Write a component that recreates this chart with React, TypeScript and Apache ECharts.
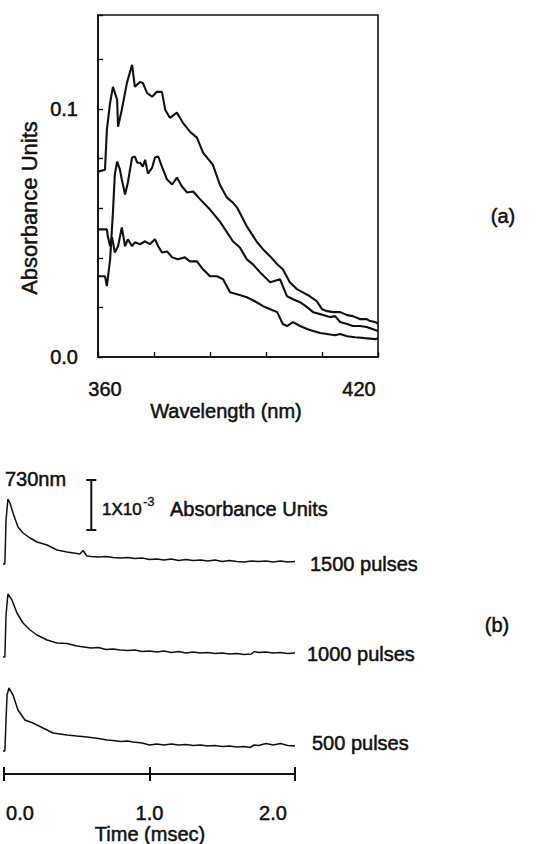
import { useEffect, useRef } from 'react';
import * as echarts from 'echarts';

const FONT = '"Liberation Sans", Arial, Helvetica, sans-serif';
const INK = '#111111';

// ---------- (a) transient absorption spectra ----------
const WL_TOP = [360.0, 361.5, 361.9, 362.6, 363.2, 364.1, 364.3, 365.1, 366.2, 367.3, 367.9, 369.0, 369.6, 370.5, 371.6, 372.6, 373.7, 374.4, 375.4, 376.9, 378.2, 379.7, 381.2, 382.5, 384.6, 386.1, 387.6, 388.9, 389.8, 391.9, 394.1, 395.4, 396.9, 398.4, 399.6, 401.1, 402.6, 403.9, 405.4, 406.9, 408.0, 409.1, 410.4, 411.9, 413.4, 414.6, 416.1, 417.6, 418.3, 419.4, 420.0];
const ABS_TOP = [0.0748, 0.0756, 0.0917, 0.1026, 0.1090, 0.1038, 0.0929, 0.0998, 0.1106, 0.1179, 0.1090, 0.1110, 0.1106, 0.1066, 0.1050, 0.1070, 0.1070, 0.0998, 0.0965, 0.0986, 0.0945, 0.0909, 0.0885, 0.0825, 0.0776, 0.0696, 0.0644, 0.0623, 0.0603, 0.0527, 0.0463, 0.0434, 0.0406, 0.0374, 0.0354, 0.0302, 0.0274, 0.0261, 0.0245, 0.0225, 0.0193, 0.0185, 0.0181, 0.0181, 0.0169, 0.0165, 0.0153, 0.0153, 0.0145, 0.0141, 0.0135];

const WL_MID = [360.0, 361.5, 361.9, 362.6, 363.2, 363.6, 364.1, 364.7, 365.1, 365.8, 366.4, 367.3, 367.9, 368.4, 369.0, 369.6, 370.1, 370.7, 371.6, 372.2, 372.9, 373.7, 374.8, 375.9, 376.9, 378.0, 379.1, 380.4, 381.9, 384.0, 386.1, 388.9, 390.4, 391.9, 393.2, 394.7, 396.9, 399.0, 400.5, 401.8, 403.3, 404.8, 406.1, 407.6, 409.7, 410.8, 411.9, 413.4, 414.6, 416.1, 417.6, 419.4, 420.0];
const ABS_MID = [0.0326, 0.0326, 0.0286, 0.0394, 0.0583, 0.0736, 0.0788, 0.0756, 0.0716, 0.0656, 0.0704, 0.0805, 0.0809, 0.0784, 0.0784, 0.0768, 0.0796, 0.0740, 0.0764, 0.0805, 0.0809, 0.0768, 0.0716, 0.0696, 0.0724, 0.0688, 0.0664, 0.0668, 0.0636, 0.0595, 0.0547, 0.0467, 0.0442, 0.0394, 0.0374, 0.0342, 0.0302, 0.0314, 0.0245, 0.0233, 0.0221, 0.0201, 0.0181, 0.0173, 0.0161, 0.0165, 0.0141, 0.0133, 0.0125, 0.0125, 0.0121, 0.0109, 0.0105];

const WL_LOW = [360.0, 361.9, 362.1, 362.6, 363.0, 363.6, 364.3, 365.1, 365.8, 366.4, 367.3, 367.9, 369.0, 370.1, 371.1, 372.2, 372.9, 373.7, 374.8, 375.9, 377.1, 378.6, 379.7, 381.2, 382.5, 384.0, 385.5, 386.8, 388.3, 389.8, 391.9, 393.6, 395.4, 396.9, 398.4, 399.6, 400.5, 401.8, 403.3, 404.8, 406.1, 407.6, 409.1, 410.8, 411.9, 413.4, 415.1, 417.2, 419.4, 420.0];
const ABS_LOW = [0.0515, 0.0515, 0.0487, 0.0447, 0.0483, 0.0422, 0.0447, 0.0523, 0.0447, 0.0475, 0.0447, 0.0463, 0.0455, 0.0467, 0.0455, 0.0475, 0.0447, 0.0422, 0.0426, 0.0402, 0.0394, 0.0402, 0.0386, 0.0386, 0.0354, 0.0326, 0.0326, 0.0314, 0.0261, 0.0253, 0.0241, 0.0225, 0.0205, 0.0193, 0.0181, 0.0133, 0.0125, 0.0141, 0.0125, 0.0113, 0.0105, 0.0097, 0.0093, 0.0088, 0.0093, 0.0084, 0.0080, 0.0076, 0.0072, 0.0076];

const WL_LABELED = [360, 420];
const ABS_LABELED = [0, 0.1];
const ABS_LABEL_TEXT = ['0.0', '0.1'];

// ---------- (b) 730 nm kinetic traces (units of 1e-3 absorbance) ----------
const T_1500 = [-0.027, 0.006, 0.014, 0.027, 0.041, 0.062, 0.096, 0.131, 0.179, 0.227, 0.296, 0.364, 0.433, 0.50, 0.522, 0.543, 0.570, 0.60, 0.65, 0.70, 0.75, 0.80, 0.85, 0.90, 0.95, 1.00, 1.05, 1.10, 1.15, 1.20, 1.25, 1.30, 1.35, 1.40, 1.45, 1.50, 1.55, 1.60, 1.65, 1.70, 1.75, 1.80, 1.85, 1.90, 1.95, 2.00];
const DA_1500 = [0, 0, 0.88, 1.30, 1.22, 1.02, 0.74, 0.62, 0.52, 0.44, 0.38, 0.28, 0.24, 0.21, 0.20, 0.27, 0.16, 0.15, 0.14, 0.15, 0.13, 0.12, 0.13, 0.11, 0.12, 0.09, 0.10, 0.08, 0.10, 0.07, 0.09, 0.07, 0.08, 0.06, 0.08, 0.05, 0.07, 0.05, 0.04, 0.06, 0.05, 0.06, 0.04, 0.06, 0.04, 0.05];

const T_1000 = [-0.027, 0.006, 0.014, 0.027, 0.055, 0.089, 0.131, 0.179, 0.227, 0.296, 0.364, 0.433, 0.50, 0.55, 0.60, 0.65, 0.70, 0.75, 0.80, 0.85, 0.90, 0.95, 1.00, 1.05, 1.10, 1.15, 1.20, 1.25, 1.30, 1.35, 1.40, 1.45, 1.50, 1.55, 1.60, 1.65, 1.70, 1.72, 1.75, 1.80, 1.85, 1.90, 1.95, 2.00];
const DA_1000 = [0, 0, 0.84, 1.26, 1.14, 0.88, 0.68, 0.54, 0.44, 0.34, 0.28, 0.27, 0.22, 0.20, 0.18, 0.19, 0.15, 0.16, 0.14, 0.13, 0.14, 0.11, 0.12, 0.10, 0.12, 0.09, 0.11, 0.08, 0.10, 0.08, 0.09, 0.07, 0.08, 0.06, 0.07, 0.05, 0.06, 0.11, 0.09, 0.10, 0.08, 0.09, 0.07, 0.08];

const T_500 = [-0.027, 0.006, 0.014, 0.021, 0.034, 0.062, 0.096, 0.144, 0.199, 0.268, 0.337, 0.433, 0.50, 0.570, 0.65, 0.708, 0.75, 0.80, 0.85, 0.887, 0.95, 1.00, 1.05, 1.10, 1.15, 1.20, 1.25, 1.30, 1.35, 1.40, 1.45, 1.50, 1.55, 1.60, 1.65, 1.69, 1.72, 1.75, 1.80, 1.85, 1.90, 1.95, 2.00];
const DA_500 = [0, 0, 0.62, 1.12, 1.26, 1.12, 0.82, 0.62, 0.56, 0.46, 0.36, 0.32, 0.30, 0.28, 0.25, 0.22, 0.21, 0.19, 0.20, 0.18, 0.16, 0.12, 0.14, 0.12, 0.14, 0.12, 0.13, 0.11, 0.12, 0.10, 0.11, 0.09, 0.10, 0.08, 0.09, 0.07, 0.12, 0.11, 0.15, 0.12, 0.15, 0.11, 0.10];

const PULSE_LABELS = ['1500 pulses', '1000 pulses', '500 pulses'];
const TIME_LABELED = [0, 1, 2];
const TIME_LABEL_TEXT = ['0.0', '1.0', '2.0'];

// scale bar: 1 x 10^-3 absorbance units
const SCALE_BAR_T = 0.6;
const SCALE_BAR_BASE = 0.68;
const SCALE_BAR_SIZE = 1;

const zip = (xs: number[], ys: number[]) => xs.map((x, i) => [x, ys[i]]);

export default function App() {
  const ref = useRef<HTMLDivElement>(null);

  useEffect(() => {
    if (!ref.current) return;
    const chart = echarts.init(ref.current, null, { renderer: 'svg' });

    const heavy = { stroke: INK, lineWidth: 0.5 };
    const txt = (text: string, x: number, y: number, extra: any = {}, el: any = {}) => ({
      type: 'text',
      x,
      y,
      ...el,
      style: {
        text,
        fontFamily: FONT,
        fontSize: 20,
        fill: INK,
        align: 'left',
        verticalAlign: 'middle',
        ...heavy,
        ...extra,
      },
    });

    const labelHeavy = { textBorderColor: INK, textBorderWidth: 0.5 };
    const traceLine = { color: INK, width: 1.5 };
    const specLine = { color: INK, width: 2.1 };

    const hiddenX = (g: number) => ({ gridIndex: g, type: 'value', min: 0, max: 2, show: false });
    const hiddenY = (g: number) => ({ gridIndex: g, type: 'value', min: -0.2, max: 1.8, show: false });
    const richBase = { fontSize: 20, fontFamily: FONT, color: INK, lineHeight: 16, ...labelHeavy };
    const gridBase = { outerBoundsMode: 'none', containLabel: false };

    const option: any = {
      animation: false,
      backgroundColor: '#ffffff',
      textStyle: { fontFamily: FONT, color: INK },
      grid: [
        { ...gridBase, left: 98, top: 15, width: 280, height: 342, show: true, borderColor: INK, borderWidth: 1.6, backgroundColor: 'transparent' },
        { ...gridBase, left: 4, top: 474, width: 291, height: 100 },
        { ...gridBase, left: 4, top: 567, width: 291, height: 100 },
        { ...gridBase, left: 4, top: 661, width: 291, height: 100 },
        { ...gridBase, left: 4, top: 700, width: 291, height: 74 },
      ],
      xAxis: [
        {
          gridIndex: 0,
          type: 'value',
          min: 360,
          max: 420,
          interval: 12,
          axisLine: { lineStyle: { color: INK, width: 1.6 } },
          axisTick: { inside: true, length: 5, lineStyle: { color: INK, width: 1.4 } },
          splitLine: { show: false },
          axisLabel: {
            margin: 24,
            color: INK,
            fontFamily: FONT,
            fontSize: 20,
            formatter: (v: number) => {
              if (Math.abs(v - WL_LABELED[0]) < 1e-6) return '{l|' + WL_LABELED[0] + '}';
              if (Math.abs(v - WL_LABELED[1]) < 1e-6) return '{r|' + WL_LABELED[1] + '}';
              return '';
            },
            rich: {
              l: { ...richBase, padding: [0, 0, 0, 14] },
              r: { ...richBase, padding: [0, 38, 0, 0] },
            },
          },
        },
        hiddenX(1),
        hiddenX(2),
        hiddenX(3),
        {
          gridIndex: 4,
          type: 'value',
          min: 0,
          max: 2,
          interval: 1,
          position: 'bottom',
          axisLine: { lineStyle: { color: INK, width: 2 } },
          axisTick: { inside: false, length: 7, lineStyle: { color: INK, width: 2 } },
          splitLine: { show: false },
          axisLabel: {
            margin: 31,
            color: INK,
            fontFamily: FONT,
            fontSize: 20,
            formatter: (v: number) => {
              const i = TIME_LABELED.findIndex((t) => Math.abs(t - v) < 1e-6);
              if (i === 0) return '{l|' + TIME_LABEL_TEXT[0] + '}';
              if (i === 1) return '{c|' + TIME_LABEL_TEXT[1] + '}';
              if (i === 2) return '{r|' + TIME_LABEL_TEXT[2] + '}';
              return '';
            },
            rich: {
              l: { ...richBase, padding: [0, 0, 0, 32] },
              c: { ...richBase },
              r: { ...richBase, padding: [0, 44, 0, 0] },
            },
          },
        },
        {
          gridIndex: 4,
          type: 'value',
          min: 0,
          max: 2,
          interval: 1,
          position: 'bottom',
          offset: 0,
          axisLine: { show: false },
          axisTick: { inside: true, length: 7, lineStyle: { color: INK, width: 2 } },
          axisLabel: { show: false },
          splitLine: { show: false },
        },
      ],
      yAxis: [
        {
          gridIndex: 0,
          type: 'value',
          min: 0,
          max: 0.138,
          interval: 0.02,
          axisLine: { show: true, lineStyle: { color: INK, width: 1.6 } },
          axisTick: { show: true, inside: true, length: 5, lineStyle: { color: INK, width: 1.4 } },
          splitLine: { show: false },
          axisLabel: {
            margin: 20,
            color: INK,
            fontFamily: FONT,
            fontSize: 20,
            ...labelHeavy,
            formatter: (v: number) => {
              const i = ABS_LABELED.findIndex((a) => Math.abs(a - v) < 1e-9);
              return i >= 0 ? ABS_LABEL_TEXT[i] : '';
            },
          },
        },
        hiddenY(1),
        hiddenY(2),
        hiddenY(3),
        { gridIndex: 4, type: 'value', show: false },
      ],
      series: [
        { type: 'line', xAxisIndex: 0, yAxisIndex: 0, data: zip(WL_TOP, ABS_TOP), showSymbol: false, lineStyle: specLine },
        { type: 'line', xAxisIndex: 0, yAxisIndex: 0, data: zip(WL_MID, ABS_MID), showSymbol: false, lineStyle: specLine },
        { type: 'line', xAxisIndex: 0, yAxisIndex: 0, data: zip(WL_LOW, ABS_LOW), showSymbol: false, lineStyle: specLine },
        { type: 'line', xAxisIndex: 1, yAxisIndex: 1, data: zip(T_1500, DA_1500), showSymbol: false, clip: false, lineStyle: traceLine },
        { type: 'line', xAxisIndex: 2, yAxisIndex: 2, data: zip(T_1000, DA_1000), showSymbol: false, clip: false, lineStyle: traceLine },
        { type: 'line', xAxisIndex: 3, yAxisIndex: 3, data: zip(T_500, DA_500), showSymbol: false, clip: false, lineStyle: traceLine },
        {
          type: 'custom',
          xAxisIndex: 1,
          yAxisIndex: 1,
          clip: false,
          data: [[SCALE_BAR_T, SCALE_BAR_BASE, SCALE_BAR_BASE + SCALE_BAR_SIZE]],
          encode: { x: 0, y: [1, 2] },
          renderItem: (_p: any, api: any) => {
            const b = api.coord([api.value(0), api.value(1)]);
            const t = api.coord([api.value(0), api.value(2)]);
            const st = { stroke: INK, lineWidth: 2 };
            return {
              type: 'group',
              children: [
                { type: 'line', shape: { x1: b[0], y1: b[1], x2: t[0], y2: t[1] }, style: st },
                { type: 'line', shape: { x1: b[0] - 5, y1: b[1], x2: b[0] + 5, y2: b[1] }, style: st },
                { type: 'line', shape: { x1: t[0] - 5, y1: t[1], x2: t[0] + 5, y2: t[1] }, style: st },
              ],
            };
          },
        },
      ],
      graphic: [
        txt('Absorbance Units', 29, 208, { align: 'center', fontSize: 22 }, { rotation: Math.PI / 2 }),
        txt('Wavelength (nm)', 226, 411, { align: 'center' }),
        txt('(a)', 503, 216, { align: 'center' }),
        txt('730nm', 5, 479),
        txt('1X10', 102, 509, { fontSize: 17 }),
        txt('-3', 143, 501, { fontSize: 13, lineWidth: 0.3 }),
        txt('Absorbance Units', 170, 509),
        txt(PULSE_LABELS[0], 310, 564),
        txt(PULSE_LABELS[1], 307, 654),
        txt(PULSE_LABELS[2], 312, 743),
        txt('(b)', 497, 625, { align: 'center' }),
        txt('Time (msec)', 150, 834, { align: 'center', lineHeight: 16 }),
      ],
    };

    chart.setOption(option);
    return () => chart.dispose();
  }, []);

  return (
    <div
      ref={ref}
      style={{ position: 'absolute', left: 0, top: 0, width: 536, height: 844, background: '#ffffff' }}
    />
  );
}
